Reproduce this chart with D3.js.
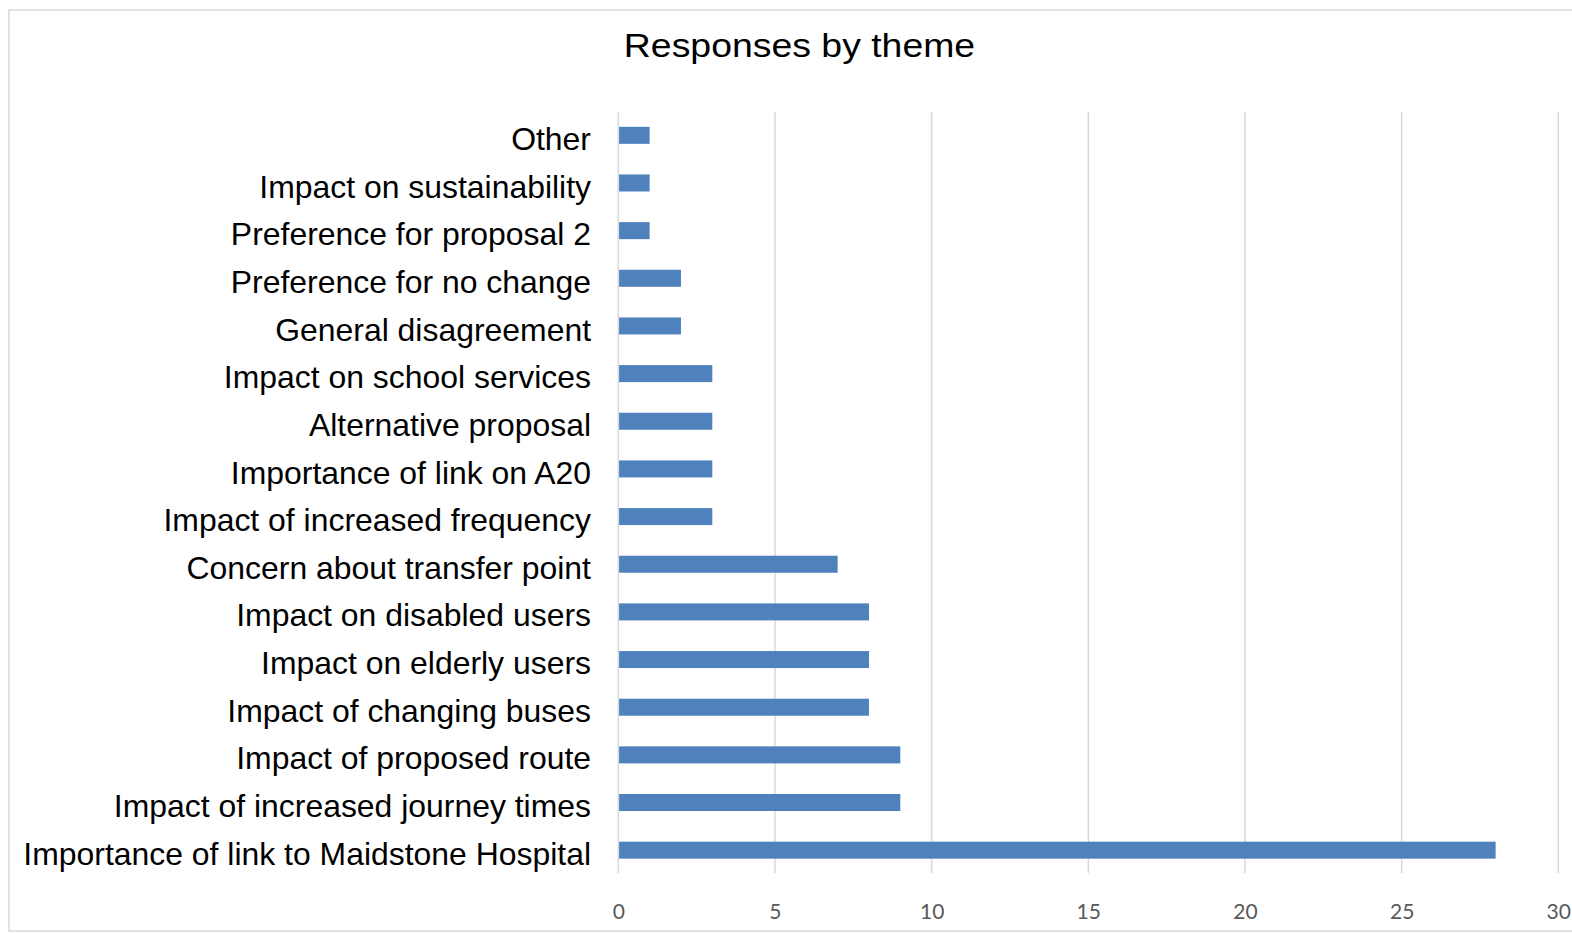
<!DOCTYPE html>
<html>
<head>
<meta charset="utf-8">
<script src="https://cdn.jsdelivr.net/npm/d3@7"></script>
<style>
  html, body { margin: 0; padding: 0; background: #fff; }
  svg { display: block; }
</style>
</head>
<body>
<svg id="chart" width="1572" height="933"></svg>
<script>
// Themes raised in responses, listed top to bottom as drawn
const categories = [
  "Other",
  "Impact on sustainability",
  "Preference for proposal 2",
  "Preference for no change",
  "General disagreement",
  "Impact on school services",
  "Alternative proposal",
  "Importance of link on A20",
  "Impact of increased frequency",
  "Concern about transfer point",
  "Impact on disabled users",
  "Impact on elderly users",
  "Impact of changing buses",
  "Impact of proposed route",
  "Impact of increased journey times",
  "Importance of link to Maidstone Hospital"
];
const responses = [1, 1, 1, 2, 2, 3, 3, 3, 3, 7, 8, 8, 8, 9, 9, 28];
const xTicks = [0, 5, 10, 15, 20, 25, 30];
const chartTitle = "Responses by theme";

const data = categories.map((c, i) => ({ theme: c, count: responses[i] }));

const svg = d3.select("#chart");

// Chart area frame
svg.append("rect")
  .attr("x", 9).attr("y", 10)
  .attr("width", 1600).attr("height", 921)
  .attr("fill", "#fff")
  .attr("stroke", "#d9d9d9")
  .attr("stroke-width", 1.5);

const plot = { left: 618.3, right: 1558.3, top: 111.5, bottom: 874 };

const x = d3.scaleLinear().domain([0, 30]).range([plot.left, plot.right]);
const y = d3.scaleBand()
  .domain(categories)
  .range([plot.top, plot.bottom])
  .paddingInner(0.643)
  .paddingOuter(0.3215);

// Vertical gridlines (including the zero line)
svg.append("g")
  .selectAll("line")
  .data(xTicks)
  .join("line")
  .attr("x1", d => x(d)).attr("x2", d => x(d))
  .attr("y1", plot.top).attr("y2", plot.bottom - 1)
  .attr("stroke", "#d9d9d9")
  .attr("stroke-width", 1.5);

// Bars
svg.append("g")
  .selectAll("rect")
  .data(data)
  .join("rect")
  .attr("x", x(0) + 0.8)
  .attr("y", d => y(d.theme))
  .attr("width", d => x(d.count) - x(0) - 0.8)
  .attr("height", y.bandwidth())
  .attr("fill", "#4f81bd");

// X axis tick labels
const xAxis = d3.axisBottom(x).tickValues(xTicks).tickSize(0).tickPadding(0);
const gx = svg.append("g")
  .attr("transform", `translate(0, ${plot.bottom})`)
  .call(xAxis);
gx.select(".domain").remove();
gx.selectAll(".tick text")
  .attr("y", 45)
  .attr("dy", 0)
  .attr("fill", "#595959")
  .style("font-family", "Lato, 'Open Sans', sans-serif")
  .style("font-size", "21px");

// Category labels
const yAxis = d3.axisLeft(y).tickSize(0).tickPadding(0);
const gy = svg.append("g")
  .attr("transform", `translate(591, 0)`)
  .call(yAxis);
gy.select(".domain").remove();
gy.selectAll(".tick text")
  .attr("x", 0)
  .attr("dy", 0)
  .attr("y", 14.6)
  .attr("fill", "#000")
  .attr("text-anchor", "end")
  .attr("transform", "scale(1.03,1)")
  .style("font-family", "'Liberation Sans', Arial, sans-serif")
  .style("font-size", "31px");

// Title
svg.append("text")
  .attr("transform", "translate(799.5, 56.7) scale(1.1,1)")
  .attr("text-anchor", "middle")
  .attr("fill", "#000")
  .style("font-family", "'Liberation Sans', Arial, sans-serif")
  .style("font-size", "34px")
  .text(chartTitle);
</script>
</body>
</html>
